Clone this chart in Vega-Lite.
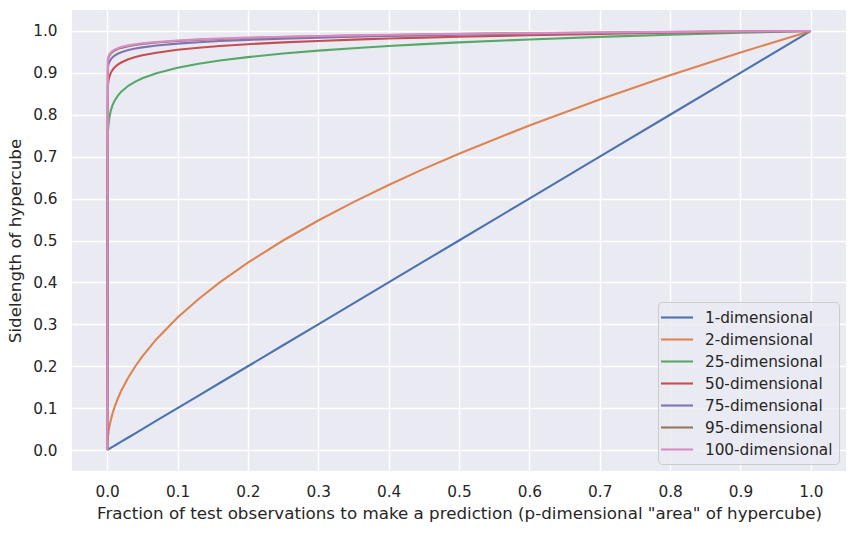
{
  "$schema": "https://vega.github.io/schema/vega-lite/v6.json",
  "width": 774,
  "height": 461,
  "autosize": {"type": "none"},
  "padding": {"left": 72, "top": 10, "right": 10, "bottom": 62},
  "background": "white",
  "config": {
    "view": {"fill": "#eaeaf2", "stroke": null},
    "font": "DejaVu Sans",
    "axis": {
      "grid": true,
      "gridColor": "#ffffff",
      "gridWidth": 1.4,
      "domain": false,
      "ticks": false,
      "tickSize": 0,
      "labelFont": "DejaVu Sans",
      "labelFontSize": 15.3,
      "labelColor": "#262626",
      "titleFont": "DejaVu Sans",
      "titleFontSize": 16.7,
      "titleFontWeight": "normal",
      "titleColor": "#262626"
    },
    "legend": {
      "labelFont": "DejaVu Sans",
      "labelFontSize": 15.3,
      "labelColor": "#262626"
    }
  },
  "data": {
    "values": [
      {"x": 0, "1-dimensional": 0, "2-dimensional": 0, "25-dimensional": 0, "50-dimensional": 0, "75-dimensional": 0, "95-dimensional": 0, "100-dimensional": 0},
      {"x": 0.001, "1-dimensional": 0.001, "2-dimensional": 0.031623, "25-dimensional": 0.75858, "50-dimensional": 0.87096, "75-dimensional": 0.91201, "95-dimensional": 0.92987, "100-dimensional": 0.93325},
      {"x": 0.002, "1-dimensional": 0.002, "2-dimensional": 0.044721, "25-dimensional": 0.7799, "50-dimensional": 0.88312, "75-dimensional": 0.92048, "95-dimensional": 0.93668, "100-dimensional": 0.93975},
      {"x": 0.003, "1-dimensional": 0.003, "2-dimensional": 0.054772, "25-dimensional": 0.79266, "50-dimensional": 0.89031, "75-dimensional": 0.92547, "95-dimensional": 0.94068, "100-dimensional": 0.94356},
      {"x": 0.005, "1-dimensional": 0.005, "2-dimensional": 0.070711, "25-dimensional": 0.80902, "50-dimensional": 0.89946, "75-dimensional": 0.93179, "95-dimensional": 0.94575, "100-dimensional": 0.9484},
      {"x": 0.0075, "1-dimensional": 0.0075, "2-dimensional": 0.086603, "25-dimensional": 0.82225, "50-dimensional": 0.90678, "75-dimensional": 0.93684, "95-dimensional": 0.9498, "100-dimensional": 0.95225},
      {"x": 0.01, "1-dimensional": 0.01, "2-dimensional": 0.1, "25-dimensional": 0.83176, "50-dimensional": 0.91201, "75-dimensional": 0.94045, "95-dimensional": 0.95268, "100-dimensional": 0.95499},
      {"x": 0.015, "1-dimensional": 0.015, "2-dimensional": 0.122474, "25-dimensional": 0.84536, "50-dimensional": 0.91944, "75-dimensional": 0.94554, "95-dimensional": 0.95676, "100-dimensional": 0.95887},
      {"x": 0.02, "1-dimensional": 0.02, "2-dimensional": 0.141421, "25-dimensional": 0.85515, "50-dimensional": 0.92474, "75-dimensional": 0.94918, "95-dimensional": 0.95966, "100-dimensional": 0.96164},
      {"x": 0.03, "1-dimensional": 0.03, "2-dimensional": 0.173205, "25-dimensional": 0.86913, "50-dimensional": 0.93227, "75-dimensional": 0.95432, "95-dimensional": 0.96376, "100-dimensional": 0.96554},
      {"x": 0.04, "1-dimensional": 0.04, "2-dimensional": 0.2, "25-dimensional": 0.87919, "50-dimensional": 0.93765, "75-dimensional": 0.95799, "95-dimensional": 0.96668, "100-dimensional": 0.96832},
      {"x": 0.05, "1-dimensional": 0.05, "2-dimensional": 0.223607, "25-dimensional": 0.88707, "50-dimensional": 0.94184, "75-dimensional": 0.96084, "95-dimensional": 0.96896, "100-dimensional": 0.97049},
      {"x": 0.07, "1-dimensional": 0.07, "2-dimensional": 0.264575, "25-dimensional": 0.89909, "50-dimensional": 0.9482, "75-dimensional": 0.96516, "95-dimensional": 0.9724, "100-dimensional": 0.97376},
      {"x": 0.1, "1-dimensional": 0.1, "2-dimensional": 0.316228, "25-dimensional": 0.91201, "50-dimensional": 0.95499, "75-dimensional": 0.96977, "95-dimensional": 0.97605, "100-dimensional": 0.97724},
      {"x": 0.13, "1-dimensional": 0.13, "2-dimensional": 0.360555, "25-dimensional": 0.92163, "50-dimensional": 0.96002, "75-dimensional": 0.97316, "95-dimensional": 0.97875, "100-dimensional": 0.9798},
      {"x": 0.16, "1-dimensional": 0.16, "2-dimensional": 0.4, "25-dimensional": 0.92932, "50-dimensional": 0.96401, "75-dimensional": 0.97586, "95-dimensional": 0.98089, "100-dimensional": 0.98184},
      {"x": 0.2, "1-dimensional": 0.2, "2-dimensional": 0.447214, "25-dimensional": 0.93765, "50-dimensional": 0.96832, "75-dimensional": 0.97877, "95-dimensional": 0.9832, "100-dimensional": 0.98403},
      {"x": 0.25, "1-dimensional": 0.25, "2-dimensional": 0.5, "25-dimensional": 0.94606, "50-dimensional": 0.97265, "75-dimensional": 0.98169, "95-dimensional": 0.98551, "100-dimensional": 0.98623},
      {"x": 0.3, "1-dimensional": 0.3, "2-dimensional": 0.547723, "25-dimensional": 0.95298, "50-dimensional": 0.97621, "75-dimensional": 0.98408, "95-dimensional": 0.98741, "100-dimensional": 0.98803},
      {"x": 0.35, "1-dimensional": 0.35, "2-dimensional": 0.591608, "25-dimensional": 0.95888, "50-dimensional": 0.97922, "75-dimensional": 0.9861, "95-dimensional": 0.98901, "100-dimensional": 0.98956},
      {"x": 0.4, "1-dimensional": 0.4, "2-dimensional": 0.632456, "25-dimensional": 0.96401, "50-dimensional": 0.98184, "75-dimensional": 0.98786, "95-dimensional": 0.9904, "100-dimensional": 0.99088},
      {"x": 0.45, "1-dimensional": 0.45, "2-dimensional": 0.67082, "25-dimensional": 0.96857, "50-dimensional": 0.98416, "75-dimensional": 0.98941, "95-dimensional": 0.99163, "100-dimensional": 0.99205},
      {"x": 0.5, "1-dimensional": 0.5, "2-dimensional": 0.707107, "25-dimensional": 0.97265, "50-dimensional": 0.98623, "75-dimensional": 0.9908, "95-dimensional": 0.99273, "100-dimensional": 0.99309},
      {"x": 0.6, "1-dimensional": 0.6, "2-dimensional": 0.774597, "25-dimensional": 0.97977, "50-dimensional": 0.98984, "75-dimensional": 0.99321, "95-dimensional": 0.99464, "100-dimensional": 0.99491},
      {"x": 0.7, "1-dimensional": 0.7, "2-dimensional": 0.83666, "25-dimensional": 0.98583, "50-dimensional": 0.99289, "75-dimensional": 0.99526, "95-dimensional": 0.99625, "100-dimensional": 0.99644},
      {"x": 0.8, "1-dimensional": 0.8, "2-dimensional": 0.894427, "25-dimensional": 0.99111, "50-dimensional": 0.99555, "75-dimensional": 0.99703, "95-dimensional": 0.99765, "100-dimensional": 0.99777},
      {"x": 0.9, "1-dimensional": 0.9, "2-dimensional": 0.948683, "25-dimensional": 0.99579, "50-dimensional": 0.9979, "75-dimensional": 0.9986, "95-dimensional": 0.99889, "100-dimensional": 0.99895},
      {"x": 1, "1-dimensional": 1, "2-dimensional": 1, "25-dimensional": 1, "50-dimensional": 1, "75-dimensional": 1, "95-dimensional": 1, "100-dimensional": 1}
    ]
  },
  "transform": [
    {"fold": ["1-dimensional", "2-dimensional", "25-dimensional", "50-dimensional", "75-dimensional", "95-dimensional", "100-dimensional"], "as": ["series", "y"]}
  ],
  "mark": {"type": "line", "strokeWidth": 2.1, "clip": true},
  "encoding": {
    "x": {
      "field": "x",
      "type": "quantitative",
      "scale": {"domain": [-0.05, 1.05], "nice": false, "zero": false},
      "axis": {
        "values": [0, 0.1, 0.2, 0.3, 0.4, 0.5, 0.6, 0.7, 0.8, 0.9, 1.0],
        "format": ".1f",
        "labelPadding": 13,
        "titlePadding": 6,
        "title": "Fraction of test observations to make a prediction (p-dimensional \"area\" of hypercube)"
      }
    },
    "y": {
      "field": "y",
      "type": "quantitative",
      "scale": {"domain": [-0.05, 1.05], "nice": false, "zero": false},
      "axis": {
        "values": [0, 0.1, 0.2, 0.3, 0.4, 0.5, 0.6, 0.7, 0.8, 0.9, 1.0],
        "format": ".1f",
        "labelPadding": 15,
        "titlePadding": 8,
        "title": "Sidelength of hypercube"
      }
    },
    "color": {
      "field": "series",
      "type": "nominal",
      "scale": {
        "domain": ["1-dimensional", "2-dimensional", "25-dimensional", "50-dimensional", "75-dimensional", "95-dimensional", "100-dimensional"],
        "range": ["#4c72b0", "#dd8452", "#55a868", "#c44e52", "#8172b3", "#937860", "#da8bc3"]
      },
      "legend": {
        "title": null,
        "orient": "bottom-right",
        "offset": 7,
        "fillColor": "rgba(234,234,242,0.8)",
        "strokeColor": "#cccccc",
        "cornerRadius": 4,
        "padding": 6,
        "symbolType": "M-2,0L2,0",
        "symbolSize": 256,
        "symbolOffset": 3.5,
        "symbolStrokeWidth": 2.1,
        "labelOffset": 18.4,
        "rowPadding": 4
      }
    }
  }
}
